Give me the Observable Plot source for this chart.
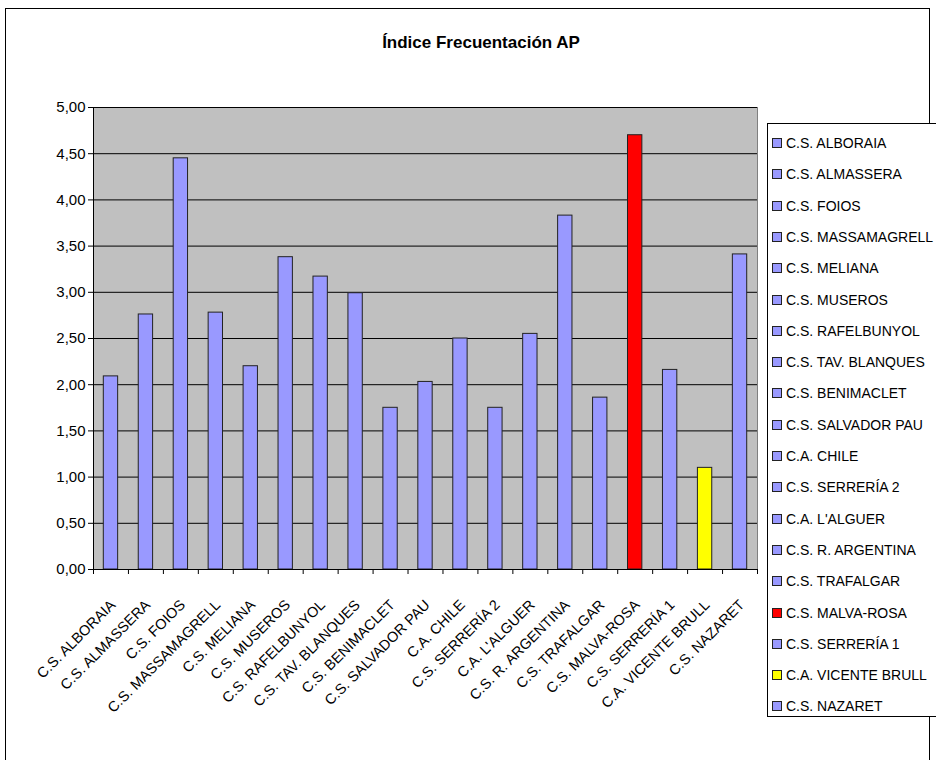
<!DOCTYPE html>
<html>
<head>
<meta charset="utf-8">
<script src="https://cdn.jsdelivr.net/npm/d3@7"></script>
<script src="https://cdn.jsdelivr.net/npm/@observablehq/plot@0.6"></script>
<style>
  html, body { margin: 0; padding: 0; background: #fff; overflow: hidden; width: 936px; height: 760px; }
  #wrap { position: relative; width: 936px; height: 760px; overflow: hidden; }
  #border { position: absolute; left: 5px; top: 8px; width: 925px; height: 800px; border: 1px solid #000; box-sizing: border-box; }
  #chart { position: absolute; left: 0; top: 0; }
  #title { position: absolute; left: 0; width: 962px; top: 33px; text-align: center;
           font: bold 17px "Liberation Sans", Arial, sans-serif; color: #000; }
  #legend { position: absolute; left: 767px; top: 123px; width: 200px; height: 594px; border: 1px solid #000;
            background: #fff; box-sizing: border-box; }
  .item { position: absolute; left: 4px; height: 20px; display: flex; align-items: center; white-space: nowrap;
          font: 14px "Liberation Sans", Arial, sans-serif; color: #000; }
  .sw { width: 8px; height: 8px; border: 1px solid #222; margin-right: 4px; flex: none; }
</style>
</head>
<body>
<div id="wrap">
  <div id="border"></div>
  <div id="chart"></div>
  <div id="title"></div>
  <div id="legend"></div>
</div>
<script>
const titleText = "Índice Frecuentación AP";
const categories = [
  "C.S. ALBORAIA", "C.S. ALMASSERA", "C.S. FOIOS", "C.S. MASSAMAGRELL", "C.S. MELIANA",
  "C.S. MUSEROS", "C.S. RAFELBUNYOL", "C.S. TAV. BLANQUES", "C.S. BENIMACLET", "C.S. SALVADOR PAU",
  "C.A. CHILE", "C.S. SERRERÍA 2", "C.A. L'ALGUER", "C.S. R. ARGENTINA", "C.S. TRAFALGAR",
  "C.S. MALVA-ROSA", "C.S. SERRERÍA 1", "C.A. VICENTE BRULL", "C.S. NAZARET"
];
const values = [
  2.09, 2.76, 4.45, 2.78, 2.20,
  3.38, 3.17, 2.99, 1.75, 2.03,
  2.50, 1.75, 2.55, 3.83, 1.86,
  4.70, 2.16, 1.10, 3.41
];
const groups = [
  "normal", "normal", "normal", "normal", "normal",
  "normal", "normal", "normal", "normal", "normal",
  "normal", "normal", "normal", "normal", "normal",
  "max", "normal", "min", "normal"
];
const groupNames = ["normal", "max", "min"];
const groupColors = ["#9999FF", "#FF0000", "#FFFF00"];
const yTicks = [0, 0.5, 1, 1.5, 2, 2.5, 3, 3.5, 4, 4.5, 5];

const data = categories.map((c, i) => ({category: c, value: values[i], group: groups[i]}));

const W = 936, H = 760, mL = 93, mR = 179, mT = 107, mB = 191;
const bw = (W - mL - mR) / categories.length;
const FONT = '"Liberation Sans", Arial, sans-serif';

const chart = Plot.plot({
  width: W, height: H,
  marginLeft: mL, marginRight: mR, marginTop: mT, marginBottom: mB,
  style: {fontFamily: FONT, fontSize: "14px", color: "#000", background: "transparent", overflow: "visible"},
  x: {type: "band", domain: categories, padding: 0, round: false, axis: null},
  y: {domain: [0, 5], axis: null},
  color: {domain: groupNames, range: groupColors},
  marks: [
    Plot.frame({fill: "#C0C0C0", stroke: "#808080"}),
    Plot.gridY(yTicks, {stroke: "#000", strokeOpacity: 1, strokeWidth: 1}),
    Plot.barY(data, {x: "category", y: "value", fill: "group", stroke: "#222", strokeWidth: 1,
                     insetLeft: 10.3, insetRight: 10.3}),
    Plot.ruleY([0], {stroke: "#000"}),
    Plot.ruleX([categories[0]], {dx: -bw / 2, stroke: "#000"}),
    Plot.axisY(yTicks, {tickSize: 5, tickPadding: 3, stroke: "#000", fill: "#000", fontSize: 15, label: null,
                        tickFormat: d => d.toFixed(2).replace(".", ",")}),
    Plot.axisX(categories, {tickSize: 5, text: null, dx: -bw / 2, stroke: "#000", label: null}),
    Plot.axisX([categories[categories.length - 1]], {tickSize: 5, text: null, dx: bw / 2, stroke: "#000", label: null}),
    Plot.text(data, {x: "category", text: "category", frameAnchor: "bottom", rotate: -45,
                     textAnchor: "end", lineAnchor: "middle", dx: 2, dy: 33, fontSize: 14.5, fill: "#000"})
  ]
});
document.getElementById("chart").appendChild(chart);
document.getElementById("title").textContent = titleText;

const legend = document.getElementById("legend");
const colorOf = g => groupColors[groupNames.indexOf(g)];
categories.forEach((c, i) => {
  const it = document.createElement("div");
  it.className = "item";
  it.style.top = (9 + i * 31.3) + "px";
  const sw = document.createElement("span");
  sw.className = "sw";
  sw.style.background = colorOf(groups[i]);
  const tx = document.createElement("span");
  tx.textContent = c;
  it.appendChild(sw); it.appendChild(tx);
  legend.appendChild(it);
});
</script>
</body>
</html>
